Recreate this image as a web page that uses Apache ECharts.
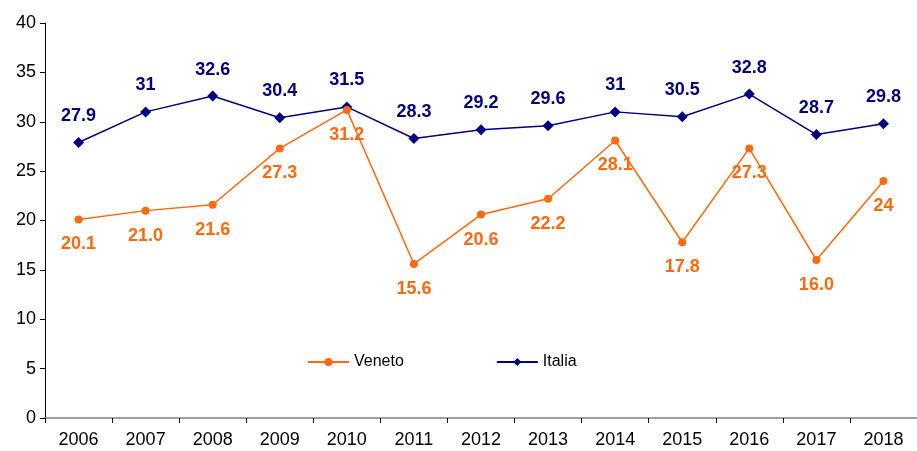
<!DOCTYPE html>
<html>
<head>
<meta charset="utf-8">
<script src="https://cdn.jsdelivr.net/npm/echarts@6/dist/echarts.min.js"></script>
<style>
    html, body { margin: 0; padding: 0; background: #fff; }
    #chart { width: 917px; height: 451px; }
</style>
</head>
<body>
<div id="chart"></div>
<script>
let years = ['2006', '2007', '2008', '2009', '2010', '2011', '2012', '2013', '2014', '2015', '2016', '2017', '2018'];
let veneto = [20.1, 21.0, 21.6, 27.3, 31.2, 15.6, 20.6, 22.2, 28.1, 17.8, 27.3, 16.0, 24];
let venetoLabels = ['20.1', '21.0', '21.6', '27.3', '31.2', '15.6', '20.6', '22.2', '28.1', '17.8', '27.3', '16.0', '24'];
let italia = [27.9, 31, 32.6, 30.4, 31.5, 28.3, 29.2, 29.6, 31, 30.5, 32.8, 28.7, 29.8];
let italiaLabels = ['27.9', '31', '32.6', '30.4', '31.5', '28.3', '29.2', '29.6', '31', '30.5', '32.8', '28.7', '29.8'];

let myChart = echarts.init(document.getElementById('chart'));
let option = {
    animation: false,
    textStyle: {fontFamily: 'Liberation Sans'},
    grid: {
        left: 45,
        right: 0,
        top: 23,
        bottom: 33
    },
    legend: {
        left: 302,
        top: 349,
        itemGap: 92,
        itemWidth: 41,
        itemHeight: 10,
        textStyle: {fontSize: 16, color: '#000'},
        data: ['Veneto', 'Italia']
    },
    xAxis: {
        type: 'category',
        data: years,
        boundaryGap: true,
        axisLine: {lineStyle: {color: '#808080', width: 1.5}},
        axisTick: {show: true, length: 5, lineStyle: {color: '#000'}},
        axisLabel: {fontSize: 18, color: '#000', margin: 13}
    },
    yAxis: {
        type: 'value',
        min: 0,
        max: 40,
        interval: 5,
        splitLine: {show: false},
        axisLine: {show: true, lineStyle: {color: '#000'}},
        axisTick: {show: true, length: 5, lineStyle: {color: '#000'}},
        axisLabel: {fontSize: 18, color: '#000', margin: 9}
    },
    series: [
        {
            name: 'Veneto',
            type: 'line',
            data: veneto,
            symbol: 'circle',
            symbolSize: 8,
            itemStyle: {color: '#FF6A0E'},
            lineStyle: {color: '#FF6A0E', width: 1.5},
            label: {
                show: true,
                position: 'bottom',
                distance: 12,
                fontSize: 18,
                fontWeight: 'bold',
                color: '#FF6A0E',
                formatter: function (p) {
                    return venetoLabels[p.dataIndex];
                }
            },
            z: 3
        },
        {
            name: 'Italia',
            type: 'line',
            data: italia,
            symbol: 'diamond',
            symbolSize: 11,
            itemStyle: {color: '#000080'},
            lineStyle: {color: '#000080', width: 1.5},
            label: {
                show: true,
                position: 'top',
                distance: 12,
                fontSize: 18,
                fontWeight: 'bold',
                color: '#000080',
                formatter: function (p) {
                    return italiaLabels[p.dataIndex];
                }
            },
            z: 2
        }
    ]
};
option && myChart.setOption(option);
</script>
</body>
</html>
